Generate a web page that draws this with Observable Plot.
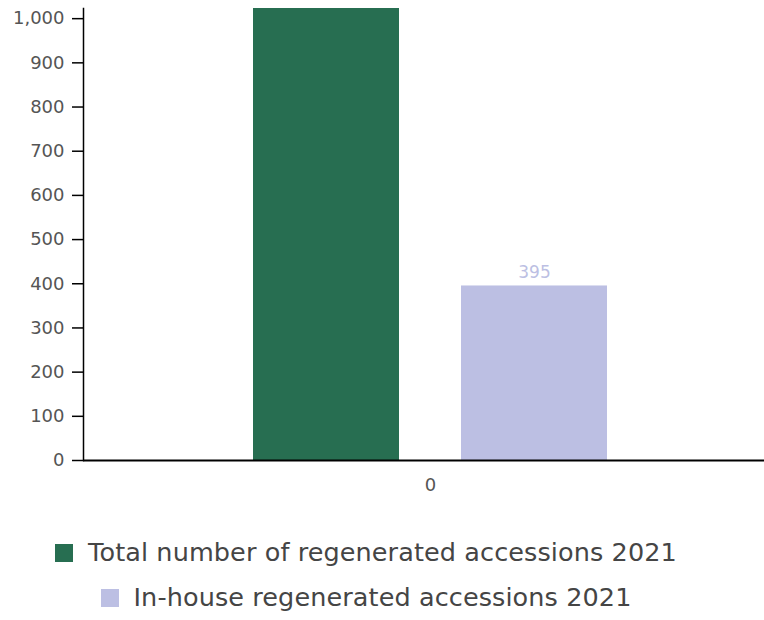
<!DOCTYPE html>
<html>
<head>
<meta charset="utf-8">
<script src="https://cdn.jsdelivr.net/npm/d3@7"></script>
<script src="https://cdn.jsdelivr.net/npm/@observablehq/plot@0.6"></script>
<style>
  body { margin: 0; background: #fff; font-family: "DejaVu Sans", sans-serif; }
  #legend { width: 732px; text-align: center; margin-top: 30px; }
  .item { display: block; font-size: 25.5px; color: #454545; line-height: 45px; letter-spacing: 0.1px; }
  .sw { display: inline-block; width: 18px; height: 18px; margin-right: 15px; vertical-align: -1px; }
</style>
</head>
<body>
<div id="chart"></div>
<div id="legend"></div>
<script>
const categories = ["0"];
const series = ["Total number of regenerated accessions 2021", "In-house regenerated accessions 2021"];
const colors = ["#276e51", "#bcbfe3"];
// Total bar exceeds the visible axis top (clipped in the original); value estimated
const totalValues = [1100];
const inhouseValues = [395];
const yTicks = [0, 100, 200, 300, 400, 500, 600, 700, 800, 900, 1000];
const yMax = 1023;

const data = [];
categories.forEach((c, i) => {
  data.push({cat: c, series: series[0], value: totalValues[i]});
  data.push({cat: c, series: series[1], value: inhouseValues[i]});
});
const fmt = d3.format(",");

const chart = Plot.plot({
  width: 764,
  height: 500,
  marginTop: 8,
  marginBottom: 40,
  marginLeft: 83,
  marginRight: -13,
  style: {fontFamily: "'DejaVu Sans', sans-serif", fontSize: "17px", color: "#555", overflow: "hidden"},
  fx: {domain: categories, label: null, padding: 0},
  x: {domain: series, paddingInner: 0.298, paddingOuter: 0.817, axis: null},
  y: {domain: [0, yMax], label: null},
  color: {domain: series, range: colors},
  marks: [
    Plot.barY(data, {fx: "cat", x: "series", y: "value", fill: "series", clip: true}),
    Plot.text(data.filter(d => d.value <= yMax), {fx: "cat", x: "series", y: "value", text: d => fmt(d.value), dy: -13, fill: "series", fontSize: 17}),
    Plot.axisY({ticks: yTicks, tickFormat: fmt, tickSize: 11, stroke: "#000", strokeWidth: 1.5, fill: "#555", fontSize: 18, tickPadding: 8, label: null}),
    Plot.axisFx({anchor: "bottom", tickSize: 0, tickPadding: 18, fontSize: 18, fill: "#555", label: null}),
    Plot.frame({anchor: "left", stroke: "#000", strokeWidth: 1.5, facet: "super"}),
    Plot.ruleY([0], {stroke: "#000", strokeWidth: 2})
  ]
});
document.getElementById("chart").appendChild(chart);

const legend = document.getElementById("legend");
series.forEach((s, i) => {
  const it = document.createElement("div");
  it.className = "item";
  const sw = document.createElement("span");
  sw.className = "sw";
  sw.style.background = colors[i];
  it.appendChild(sw);
  it.appendChild(document.createTextNode(s));
  legend.appendChild(it);
});
</script>
</body>
</html>
